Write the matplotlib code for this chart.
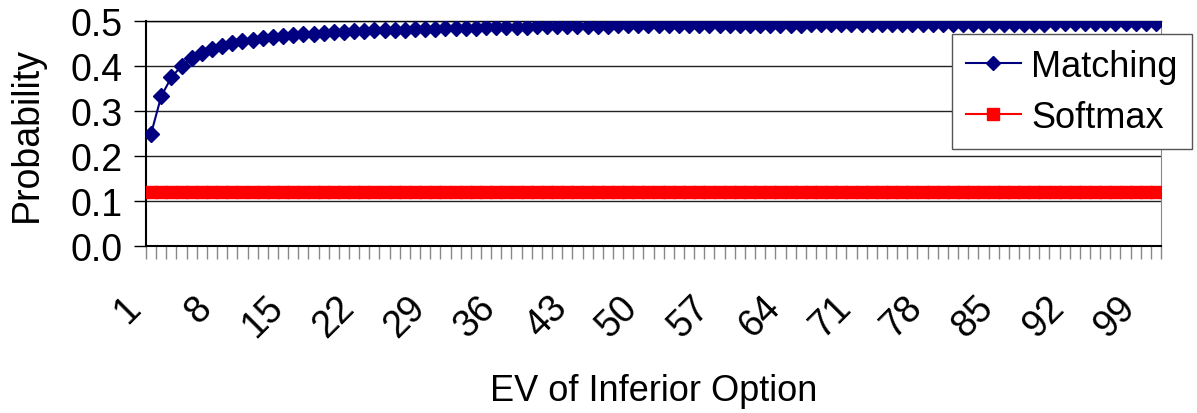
import numpy as np
import matplotlib
matplotlib.use('Agg')
import matplotlib.pyplot as plt
import matplotlib.transforms as mtransforms

# dados
ev_inferior = list(range(1, 101))
matching = [0.250, 0.333, 0.375, 0.400, 0.417, 0.429, 0.438, 0.444, 0.450, 0.455,
            0.458, 0.462, 0.464, 0.467, 0.469, 0.471, 0.472, 0.474, 0.475, 0.476,
            0.477, 0.478, 0.479, 0.480, 0.481, 0.481, 0.482, 0.483, 0.483, 0.484,
            0.484, 0.485, 0.485, 0.486, 0.486, 0.486, 0.487, 0.487, 0.488, 0.488,
            0.488, 0.488, 0.489, 0.489, 0.489, 0.489, 0.490, 0.490, 0.490, 0.490,
            0.490, 0.491, 0.491, 0.491, 0.491, 0.491, 0.491, 0.492, 0.492, 0.492,
            0.492, 0.492, 0.492, 0.492, 0.492, 0.493, 0.493, 0.493, 0.493, 0.493,
            0.493, 0.493, 0.493, 0.493, 0.493, 0.494, 0.494, 0.494, 0.494, 0.494,
            0.494, 0.494, 0.494, 0.494, 0.494, 0.494, 0.494, 0.494, 0.494, 0.495,
            0.495, 0.495, 0.495, 0.495, 0.495, 0.495, 0.495, 0.495, 0.495, 0.495]
softmax = [0.12] * 100
rotulos_x = ev_inferior[::7]
rotulos_y = [0.0, 0.1, 0.2, 0.3, 0.4, 0.5]

plt.rcParams['font.family'] = ['Liberation Sans', 'DejaVu Sans']

fig = plt.figure(figsize=(11.97, 4.14), dpi=100)
ax = fig.add_axes([0.122, 0.403, 0.848, 0.544])

ax.plot(ev_inferior, matching, color='#000080', marker='D', markersize=8, linewidth=1.5,
        label='Matching', zorder=4)
ax.plot(ev_inferior, softmax, color='#ff0000', marker='s', markersize=9, linewidth=1.5,
        label='Softmax', zorder=3)

ax.set_xlim(0.5, len(ev_inferior) + 0.5)
ax.set_ylim(0, 0.5)

# grades horizontais
ax.set_yticks(rotulos_y)
ax.set_yticklabels([f'{v:.1f}' for v in rotulos_y], fontsize=27)
ax.yaxis.grid(True, color='#222222', linewidth=1)
ax.set_axisbelow(True)
ax.tick_params(axis='y', direction='out', length=9, width=1, color='black', pad=8)

# ticks entre categorias, rotulos a cada 7
ax.set_xticks(np.arange(0.5, len(ev_inferior) + 1, 1))
ax.set_xticklabels([])
ax.tick_params(axis='x', which='major', direction='out', length=9, width=1, color='#888888')
ax.set_xticks(rotulos_x, minor=True)
ax.set_xticklabels([str(v) for v in rotulos_x], minor=True, rotation=45, fontsize=27,
                   ha='right', va='center', rotation_mode='anchor')
ax.tick_params(axis='x', which='minor', length=0, pad=40)
desloc = mtransforms.ScaledTranslation(-16 / 100, 0, fig.dpi_scale_trans)
for lbl in ax.get_xticklabels(minor=True):
    lbl.set_transform(lbl.get_transform() + desloc)

ax.spines['left'].set_linewidth(1.5)
ax.spines['bottom'].set_linewidth(1.5)
ax.spines['top'].set_linewidth(1)
ax.spines['right'].set_color('#888888')

ax.set_ylabel('Probability', fontsize=27, labelpad=18)
ax.set_xlabel('EV of Inferior Option', fontsize=26, labelpad=21)

leg = ax.legend(loc='upper right', bbox_to_anchor=(0.996, 0.915),
                bbox_transform=fig.transFigure, fontsize=26, fancybox=False,
                framealpha=1, edgecolor='#555555', handlelength=1.5,
                handletextpad=0.3, borderpad=0.4, labelspacing=0.45,
                borderaxespad=0, markerscale=0.9)
leg.get_frame().set_linewidth(1)

plt.savefig('out.png', dpi=100)
